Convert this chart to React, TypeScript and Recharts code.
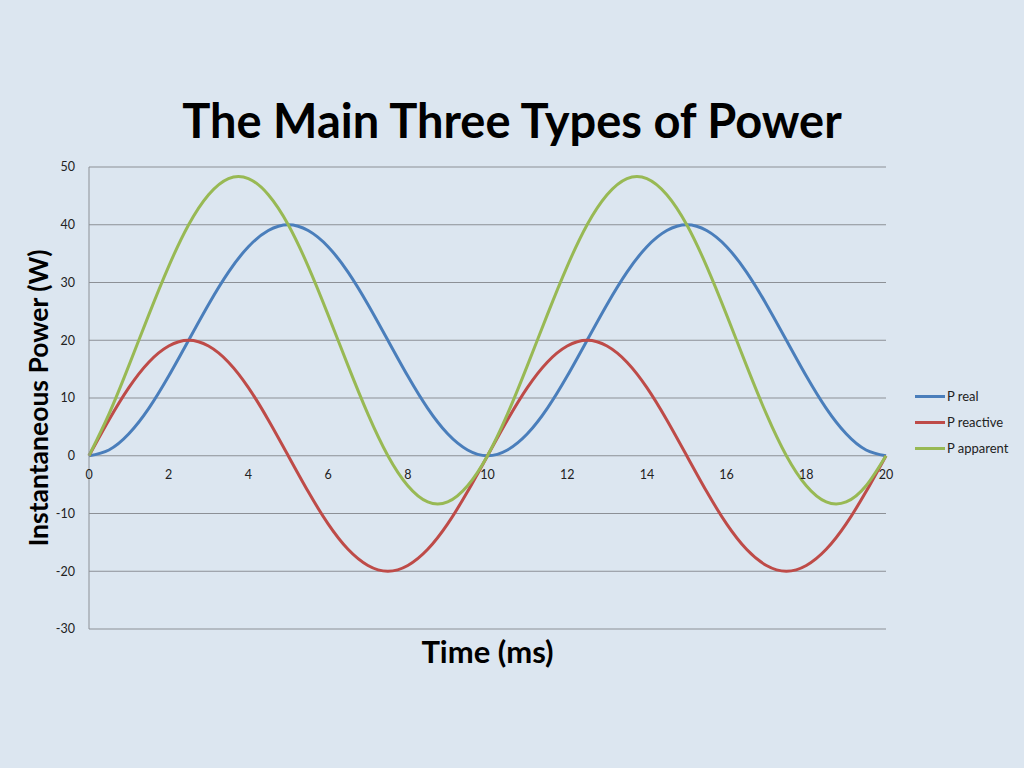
import { LineChart, Line, XAxis, YAxis, CartesianGrid } from "recharts";

const times = [
  0, 0.5, 1, 1.5, 2, 2.5, 3, 3.5, 4, 4.5, 5, 5.5, 6, 6.5, 7, 7.5, 8, 8.5, 9, 9.5,
  10, 10.5, 11, 11.5, 12, 12.5, 13, 13.5, 14, 14.5, 15, 15.5, 16, 16.5, 17, 17.5, 18, 18.5, 19, 19.5, 20,
];
const pReal = [
  0, 1.0, 3.8, 8.2, 13.8, 20, 26.2, 31.8, 36.2, 39.0, 40, 39.0, 36.2, 31.8, 26.2, 20, 13.8, 8.2, 3.8, 1.0,
  0, 1.0, 3.8, 8.2, 13.8, 20, 26.2, 31.8, 36.2, 39.0, 40, 39.0, 36.2, 31.8, 26.2, 20, 13.8, 8.2, 3.8, 1.0, 0,
];
const pReactive = [
  0, 6.2, 11.8, 16.2, 19.0, 20, 19.0, 16.2, 11.8, 6.2, 0, -6.2, -11.8, -16.2, -19.0, -20, -19.0, -16.2, -11.8, -6.2,
  0, 6.2, 11.8, 16.2, 19.0, 20, 19.0, 16.2, 11.8, 6.2, 0, -6.2, -11.8, -16.2, -19.0, -20, -19.0, -16.2, -11.8, -6.2, 0,
];
const pApparent = [
  0, 7.2, 15.6, 24.4, 32.8, 40, 45.2, 48.0, 48.0, 45.2, 40, 32.8, 24.4, 15.6, 7.2, 0, -5.2, -8.0, -8.0, -5.2,
  0, 7.2, 15.6, 24.4, 32.8, 40, 45.2, 48.0, 48.0, 45.2, 40, 32.8, 24.4, 15.6, 7.2, 0, -5.2, -8.0, -8.0, -5.2, 0,
];
const xTicks = [0, 2, 4, 6, 8, 10, 12, 14, 16, 18, 20];
const yTicks = [-30, -20, -10, 0, 10, 20, 30, 40, 50];

const series = [
  { key: "real", name: "P real", color: "#4a7ebb" },
  { key: "reactive", name: "P reactive", color: "#be4b48" },
  { key: "apparent", name: "P apparent", color: "#98b954" },
];

const data = times.map((t, i) => ({
  t,
  real: pReal[i],
  reactive: pReactive[i],
  apparent: pApparent[i],
}));

// plot box in page pixels
const TOP = 167;
const LEFT = 89;
const RIGHT = 886;
const BOTTOM = 629;
const Y_MIN = -30;
const Y_MAX = 50;
const zeroY = TOP + ((Y_MAX - 0) / (Y_MAX - Y_MIN)) * (BOTTOM - TOP);

const FONT = "Lato, 'Open Sans', sans-serif";

function XTick(props: any) {
  const { x, payload } = props;
  return (
    <text x={x} y={zeroY + 23} textAnchor="middle" fontSize={12.5} fill="#222" fontFamily={FONT}>
      {payload.value}
    </text>
  );
}

function LegendBox() {
  return (
    <div
      style={{
        position: "absolute",
        left: 915,
        top: 383,
        fontFamily: FONT,
        fontSize: 13,
        color: "#222",
      }}
    >
      {series.map((s) => (
        <div key={s.key} style={{ display: "flex", alignItems: "center", height: 26 }}>
          <span style={{ display: "inline-block", width: 30, height: 3, background: s.color, marginRight: 2 }} />
          <span>{s.name}</span>
        </div>
      ))}
    </div>
  );
}

export default function App() {
  document.body.style.margin = "0";
  return (
    <div style={{ position: "relative", width: 1024, height: 768, background: "#dce6f0", overflow: "hidden" }}>
      <div
        style={{
          position: "absolute",
          top: 92,
          left: 0,
          width: 1024,
          textAlign: "center",
          fontFamily: FONT,
          fontWeight: 700,
          fontSize: 47,
          color: "#000",
        }}
      >
        The Main Three Types of Power
      </div>
      <div
        style={{
          position: "absolute",
          left: 38,
          top: (TOP + BOTTOM) / 2 - 20,
          transform: "translate(-50%, 0) rotate(-90deg)",
          transformOrigin: "50% 50%",
          whiteSpace: "nowrap",
          fontFamily: FONT,
          fontWeight: 700,
          fontSize: 26.5,
          height: 40,
          lineHeight: "40px",
        }}
      >
        Instantaneous Power (W)
      </div>
      <div
        style={{
          position: "absolute",
          top: 632,
          left: LEFT,
          width: RIGHT - LEFT,
          textAlign: "center",
          fontFamily: FONT,
          fontWeight: 700,
          fontSize: 31,
        }}
      >
        Time (ms)
      </div>
      <div style={{ position: "absolute", left: 0, top: 0 }}>
        <LineChart
          width={1024}
          height={768}
          data={data}
          margin={{ top: TOP, left: LEFT - 60, right: 1024 - RIGHT, bottom: 768 - BOTTOM - 30 }}
        >
          <CartesianGrid vertical={false} stroke="#8c9096" strokeWidth={1} />
          <XAxis
            dataKey="t"
            type="number"
            domain={[0, 20]}
            ticks={xTicks}
            axisLine={false}
            tickLine={false}
            height={30}
            tick={<XTick />}
          />
          <YAxis
            type="number"
            domain={[Y_MIN, Y_MAX]}
            ticks={yTicks}
            width={60}
            axisLine={{ stroke: "#8c9096" }}
            tickLine={false}
            tickSize={6}
            tickMargin={8}
            tick={{ fontSize: 12.5, fill: "#222", fontFamily: FONT }}
          />
          {series.map((s) => (
            <Line
              key={s.key}
              type="natural"
              dataKey={s.key}
              name={s.name}
              stroke={s.color}
              strokeWidth={3}
              dot={false}
              isAnimationActive={false}
            />
          ))}
        </LineChart>
      </div>
      <LegendBox />
    </div>
  );
}
